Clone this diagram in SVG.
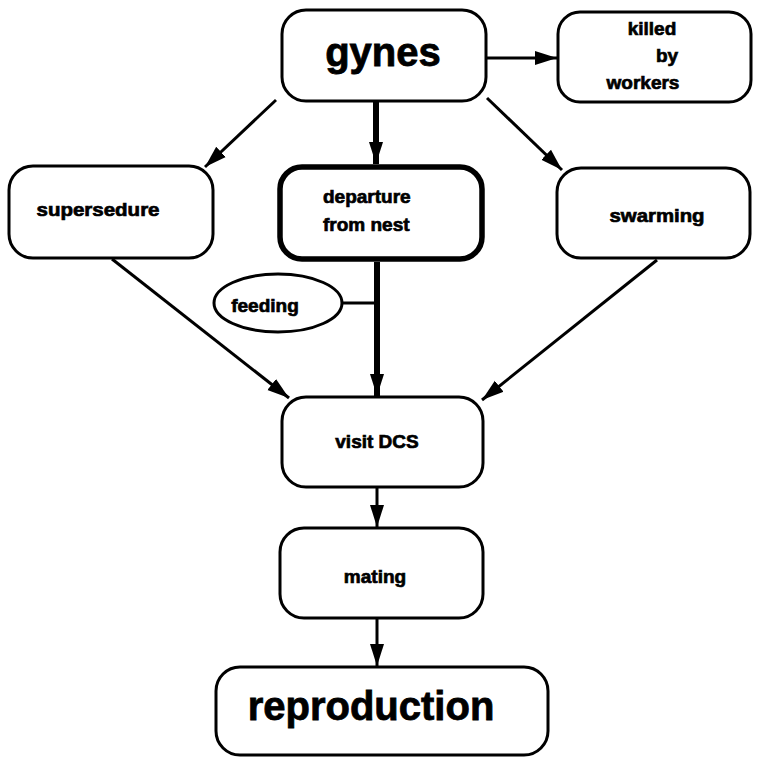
<svg xmlns="http://www.w3.org/2000/svg" width="757" height="758" viewBox="0 0 757 758">
<style>
.box{fill:#fff;stroke:#000;stroke-width:3}
.thick{stroke-width:5.5}
.t{font-family:"Liberation Sans",Arial,sans-serif;font-weight:bold;fill:#000}
.s{font-size:19px;stroke:#000;stroke-width:0.7}
.b{font-size:40px;stroke:#000;stroke-width:0.8}
.c{stroke:#000;stroke-width:3;fill:none}
.cw{stroke:#000;stroke-width:6;fill:none}
</style>
<defs>
<marker id="ah" markerUnits="userSpaceOnUse" markerWidth="24" markerHeight="16" refX="22" refY="8" orient="auto">
<path d="M0,1 L22,8 L0,15 Z" fill="#000"/>
</marker>
</defs>
<rect width="757" height="758" fill="#fff"/>
<g id="connectors">
<line class="c" x1="487" y1="58" x2="557" y2="58" marker-end="url(#ah)"/>
<line class="c" x1="276" y1="100" x2="205" y2="167" marker-end="url(#ah)"/>
<line class="cw" x1="376" y1="102" x2="376" y2="164" marker-end="url(#ah)"/>
<line class="c" x1="487" y1="98" x2="562" y2="170" marker-end="url(#ah)"/>
<line class="c" x1="112" y1="259" x2="289" y2="398" marker-end="url(#ah)"/>
<line class="c" x1="657" y1="260" x2="482" y2="400" marker-end="url(#ah)"/>
<line class="cw" x1="377" y1="262" x2="377" y2="396" marker-end="url(#ah)"/>
<line class="c" x1="342" y1="303" x2="377" y2="303"/>
<line class="c" x1="377" y1="488" x2="377" y2="527" marker-end="url(#ah)"/>
<line class="c" x1="377" y1="619" x2="377" y2="666" marker-end="url(#ah)"/>
</g>
<g id="gynes">
<rect class="box" x="282" y="10" width="204" height="91" rx="24"/>
<text class="t b" x="383" y="66" text-anchor="middle">gynes</text>
</g>
<g id="killed">
<rect class="box" x="558" y="12" width="193" height="90" rx="22"/>
<text class="t s" x="652" y="35" text-anchor="middle">killed</text>
<text class="t s" x="667" y="62" text-anchor="middle">by</text>
<text class="t s" x="643" y="89" text-anchor="middle">workers</text>
</g>
<g id="supersedure">
<rect class="box" x="9" y="166" width="204" height="92" rx="24"/>
<text class="t s" x="98" y="216" text-anchor="middle" textLength="123" lengthAdjust="spacingAndGlyphs">supersedure</text>
</g>
<g id="departure">
<rect class="box thick" x="280" y="167" width="202" height="92" rx="22"/>
<text class="t s" x="323" y="203">departure</text>
<text class="t s" x="323" y="231">from nest</text>
</g>
<g id="swarming">
<rect class="box" x="557" y="168" width="193" height="90" rx="24"/>
<text class="t s" x="657" y="222" text-anchor="middle" textLength="95" lengthAdjust="spacingAndGlyphs">swarming</text>
</g>
<g id="feeding">
<ellipse class="box" cx="278" cy="303" rx="64" ry="29"/>
<text class="t s" x="265" y="312" text-anchor="middle">feeding</text>
</g>
<g id="visit">
<rect class="box" x="282" y="397" width="201" height="90" rx="24"/>
<text class="t s" x="377" y="448" text-anchor="middle">visit DCS</text>
</g>
<g id="mating">
<rect class="box" x="280" y="528" width="203" height="90" rx="24"/>
<text class="t s" x="375" y="583" text-anchor="middle">mating</text>
</g>
<g id="reproduction">
<rect class="box" x="216" y="667" width="332" height="88" rx="24"/>
<text class="t b" x="371" y="720" text-anchor="middle">reproduction</text>
</g>
</svg>
